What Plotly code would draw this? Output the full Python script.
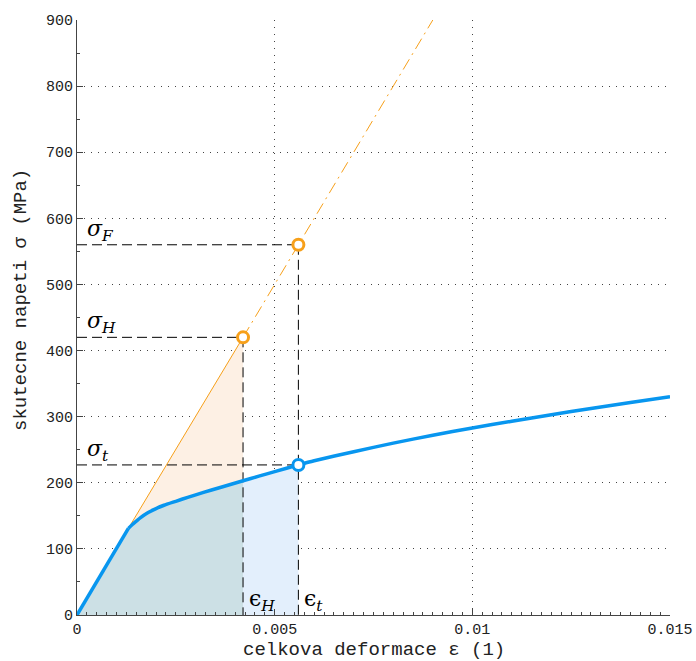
import plotly.graph_objects as go

# Blue true stress-strain curve
eps_curve = [0, 0.0013, 0.0014, 0.0015, 0.0016, 0.0018, 0.002, 0.0022, 0.0025, 0.0028,
             0.0032, 0.0036, 0.0042, 0.0046, 0.005, 0.0056,
             0.006, 0.007, 0.008, 0.009, 0.01, 0.011, 0.012, 0.013, 0.014, 0.015]
sig_curve = [0, 131, 137, 142, 147, 155, 161, 166, 172, 178,
             185.5, 192.5, 203, 210, 216.8, 227,
             233.4, 247, 260, 272, 283, 293, 303, 312.5, 321.5, 330]

# Orange elastic extension
eps_orange_solid = [0.0013, 0.0042]
sig_orange_solid = [131, 420]
eps_orange_dash = [0.0042, 0.0056, 0.009]
sig_orange_dash = [420, 560, 900]

# Key points
eps_H, sig_H = 0.0042, 420
eps_F, sig_F = 0.0056, 560
eps_t, sig_t = 0.0056, 227

x_ticks = [0, 0.005, 0.01, 0.015]
x_ticklabels = ["0", "0.005", "0.01", "0.015"]
y_ticks = [0, 100, 200, 300, 400, 500, 600, 700, 800, 900]

BLUE = "#0896ef"
ORANGE = "#f7a01a"
MONO = "Liberation Mono, DejaVu Sans Mono, monospace"
SERIF = "DejaVu Serif, Liberation Serif, serif"

fig = go.Figure()

# fills
xa = [e for e in eps_curve if e <= eps_H]
ya = [s for e, s in zip(eps_curve, sig_curve) if e <= eps_H]
fig.add_trace(go.Scatter(x=xa, y=ya, fill="tozeroy", mode="none",
                         fillcolor="#cce0e5", hoverinfo="skip"))
xb = [e for e in eps_curve if eps_H <= e <= eps_t]
yb = [s for e, s in zip(eps_curve, sig_curve) if eps_H <= e <= eps_t]
fig.add_trace(go.Scatter(x=xb, y=yb, fill="tozeroy", mode="none",
                         fillcolor="#e3effc", hoverinfo="skip"))
xc_b = [e for e in eps_curve if eps_orange_solid[0] <= e <= eps_H]
yc_b = [s for e, s in zip(eps_curve, sig_curve) if eps_orange_solid[0] <= e <= eps_H]
fig.add_trace(go.Scatter(x=eps_orange_solid + xc_b[::-1], y=sig_orange_solid + yc_b[::-1],
                         fill="toself", mode="none", fillcolor="#fdf0e4", hoverinfo="skip"))

# dashed guide lines
dash_style = dict(color="black", width=1, dash="10px,5px")
for xs, ys in [([0, eps_F], [sig_F, sig_F]), ([0, eps_H], [sig_H, sig_H]),
               ([0, eps_t], [sig_t, sig_t]), ([eps_H, eps_H], [sig_H, 0]),
               ([eps_F, eps_F], [sig_F, 0])]:
    fig.add_trace(go.Scatter(x=xs, y=ys, mode="lines", line=dash_style, hoverinfo="skip"))

# orange lines
fig.add_trace(go.Scatter(x=eps_orange_solid, y=sig_orange_solid, mode="lines",
                         line=dict(color=ORANGE, width=1)))
fig.add_trace(go.Scatter(x=eps_orange_dash, y=sig_orange_dash, mode="lines",
                         line=dict(color=ORANGE, width=1, dash="12px,5px,2px,5px")))
# blue curve: elastic part + smooth hardening part
fig.add_trace(go.Scatter(x=eps_curve[:2], y=sig_curve[:2], mode="lines",
                         line=dict(color=BLUE, width=3.5)))
fig.add_trace(go.Scatter(x=eps_curve[1:], y=sig_curve[1:], mode="lines",
                         line=dict(color=BLUE, width=3.5, shape="spline", smoothing=0.6)))

# markers
fig.add_trace(go.Scatter(x=[eps_H, eps_F], y=[sig_H, sig_F], mode="markers",
                         marker=dict(size=11, color="white", line=dict(color=ORANGE, width=3))))
fig.add_trace(go.Scatter(x=[eps_t], y=[sig_t], mode="markers",
                         marker=dict(size=11, color="white", line=dict(color=BLUE, width=3))))

# labels
lab_font = dict(family=SERIF, size=22, color="black")
for txt, x, y, xa_, ya_, ys in [
    ("<i>σ</i><sub><i>F</i></sub>", 0.0002, sig_F, "left", "bottom", -2),
    ("<i>σ</i><sub><i>H</i></sub>", 0.0002, sig_H, "left", "bottom", -2),
    ("<i>σ</i><sub><i>t</i></sub>", 0.0002, sig_t, "left", "bottom", -2),
    ("ϵ<sub><i>H</i></sub>", eps_H + 0.0001, 0, "left", "bottom", -2),
    ("ϵ<sub><i>t</i></sub>", eps_t + 0.0001, 0, "left", "bottom", -2),
]:
    fig.add_annotation(x=x, y=y, text=txt, showarrow=False, xanchor=xa_, yanchor=ya_,
                       font=lab_font, yshift=ys)

# axis titles
fig.add_annotation(xref="paper", yref="paper", x=0.5, y=0, yshift=-35, text="celkova deformace ε (1)",
                   showarrow=False, xanchor="center", yanchor="middle",
                   font=dict(family=MONO, size=19, color="#222"))
fig.add_annotation(xref="paper", yref="paper", x=0, xshift=-56, y=(615 - 300) / 595,
                   text="skutecne napeti σ (MPa)", textangle=-90,
                   showarrow=False, xanchor="center", yanchor="middle",
                   font=dict(family=MONO, size=19, color="#222"))

grid = dict(showgrid=True, gridcolor="#444444", gridwidth=1, griddash="1px,6px")
fig.update_xaxes(range=[0, 0.015], tickvals=x_ticks, ticktext=x_ticklabels, automargin=False,
                 ticks="inside", ticklen=6, tickcolor="#444", showline=True,
                 linecolor="#444", linewidth=1, zeroline=False,
                 minor=dict(ticks="inside", ticklen=3, tickcolor="#444", dtick=0.00025, showgrid=False),
                 tickfont=dict(family=MONO, size=15, color="#222"),
                 **grid)
fig.update_yaxes(range=[0, 900], tickvals=y_ticks, automargin=False,
                 ticks="inside", ticklen=6, tickcolor="#444", showline=True,
                 linecolor="#444", linewidth=1, zeroline=False,
                 minor=dict(ticks="inside", ticklen=3, tickcolor="#444", dtick=50, showgrid=False),
                 tickfont=dict(family=MONO, size=15, color="#222"),
                 **grid)
fig.update_layout(width=696, height=661, margin=dict(l=77, r=26, t=20, b=46),
                  plot_bgcolor="white", paper_bgcolor="white", showlegend=False)

fig.write_html("out.html")
